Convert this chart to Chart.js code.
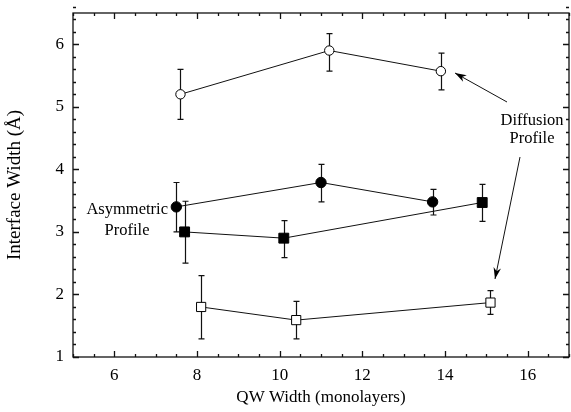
<!DOCTYPE html>
<html>
<head>
<meta charset="utf-8">
<script src="https://cdn.jsdelivr.net/npm/chart.js@4"></script>
<style>
  html, body { margin: 0; padding: 0; background: #fff; }
  #wrap { width: 571px; height: 412px; }
</style>
</head>
<body>
<div id="wrap"><canvas id="chart" width="571" height="412"></canvas></div>
<script>
// data: x = QW width, y = interface width, lo/hi = error bar ends
const diffWellX = [7.6, 11.2, 13.9];
const diffWellY = [5.2, 5.9, 5.57];
const diffWellLo = [4.8, 5.57, 5.27];
const diffWellHi = [5.6, 6.17, 5.86];

const asymWellX = [7.5, 11.0, 13.7];
const asymWellY = [3.4, 3.79, 3.48];
const asymWellLo = [3.0, 3.48, 3.27];
const asymWellHi = [3.79, 4.08, 3.68];

const asymBarX = [7.7, 10.1, 14.9];
const asymBarY = [3.0, 2.9, 3.47];
const asymBarLo = [2.5, 2.59, 3.17];
const asymBarHi = [3.49, 3.18, 3.76];

const diffBarX = [8.1, 10.4, 15.1];
const diffBarY = [1.8, 1.59, 1.87];
const diffBarLo = [1.29, 1.29, 1.68];
const diffBarHi = [2.3, 1.89, 2.06];

const xTicks = [6, 8, 10, 12, 14, 16];
const yTicks = [1, 2, 3, 4, 5, 6];

const FONT = '"Liberation Serif", "Times New Roman", serif';

function pts(xs, ys, lo, hi) {
  return xs.map((x, i) => ({ x: x, y: ys[i], lo: lo[i], hi: hi[i] }));
}

function series(label, data, style, radius, filled) {
  return {
    label: label,
    data: data,
    showLine: true,
    borderColor: '#111',
    borderWidth: 1,
    pointStyle: style,
    pointRadius: radius,
    pointHoverRadius: radius,
    pointBorderWidth: 1,
    pointBackgroundColor: filled ? '#000' : '#fff',
    pointBorderColor: '#000'
  };
}

function noPad(s) {
  s.paddingLeft = 0; s.paddingRight = 0; s.paddingTop = 0; s.paddingBottom = 0;
}

// error bars, drawn under the markers
const errorBars = {
  id: 'errorBars',
  beforeDatasetsDraw(chart) {
    const ctx = chart.ctx;
    const xs = chart.scales.x, ys = chart.scales.y;
    ctx.save();
    ctx.strokeStyle = '#111';
    ctx.lineWidth = 1.2;
    chart.data.datasets.forEach(ds => {
      ds.data.forEach(p => {
        const px = Math.round(xs.getPixelForValue(p.x)) + 0.5;
        const top = ys.getPixelForValue(p.hi);
        const bot = ys.getPixelForValue(p.lo);
        ctx.beginPath();
        ctx.moveTo(px, top); ctx.lineTo(px, bot);
        ctx.moveTo(px - 3, top); ctx.lineTo(px + 3, top);
        ctx.moveTo(px - 3, bot); ctx.lineTo(px + 3, bot);
        ctx.stroke();
      });
    });
    ctx.restore();
  }
};

// box frame with inward ticks on all four sides, plus the text labels and arrows
const frame = {
  id: 'frame',
  afterDraw(chart) {
    const ctx = chart.ctx;
    const a = chart.chartArea;
    const xs = chart.scales.x, ys = chart.scales.y;
    ctx.save();
    ctx.strokeStyle = '#111';
    ctx.lineWidth = 1.3;
    ctx.strokeRect(a.left, a.top, a.right - a.left, a.bottom - a.top);
    ctx.beginPath();
    for (let v = xs.min; v <= xs.max + 1e-6; v += 0.5) {
      const px = Math.round(xs.getPixelForValue(v)) + 0.5;
      const len = Math.abs(v % 2) < 1e-6 ? 6 : 3;
      ctx.moveTo(px, a.bottom); ctx.lineTo(px, a.bottom - len);
      ctx.moveTo(px, a.top); ctx.lineTo(px, a.top + len);
    }
    for (let i = 0; i <= Math.round((ys.max - ys.min) / 0.2); i++) {
      const v = ys.min + i * 0.2;
      const py = Math.round(ys.getPixelForValue(v)) + 0.5;
      const len = i % 5 === 0 ? 6 : 3;
      ctx.moveTo(a.left, py); ctx.lineTo(a.left + len, py);
      ctx.moveTo(a.right, py); ctx.lineTo(a.right - len, py);
    }
    ctx.stroke();

    ctx.fillStyle = '#000';
    ctx.font = '16.5px ' + FONT;
    ctx.textAlign = 'right';
    ctx.textBaseline = 'middle';
    ctx.fillText('Asymmetric', 168, 210);
    ctx.textAlign = 'center';
    ctx.fillText('Profile', 127, 231);
    ctx.fillText('Diffusion', 532, 121);
    ctx.fillText('Profile', 532, 139);

    arrow(ctx, 507, 102, 455, 73);
    arrow(ctx, 520, 157, 495, 279);
    ctx.restore();
  }
};

function arrow(ctx, x1, y1, x2, y2) {
  const ang = Math.atan2(y2 - y1, x2 - x1);
  ctx.beginPath();
  ctx.lineWidth = 1;
  ctx.moveTo(x1, y1); ctx.lineTo(x2, y2);
  ctx.stroke();
  ctx.beginPath();
  ctx.moveTo(x2, y2);
  ctx.lineTo(x2 - 12 * Math.cos(ang - 0.32), y2 - 12 * Math.sin(ang - 0.32));
  ctx.lineTo(x2 - 8 * Math.cos(ang), y2 - 8 * Math.sin(ang));
  ctx.lineTo(x2 - 12 * Math.cos(ang + 0.32), y2 - 12 * Math.sin(ang + 0.32));
  ctx.closePath();
  ctx.fill();
}

new Chart(document.getElementById('chart').getContext('2d'), {
  type: 'scatter',
  data: {
    datasets: [
      series('Diffusion Profile (well)', pts(diffWellX, diffWellY, diffWellLo, diffWellHi), 'circle', 4.7, false),
      series('Asymmetric Profile (well)', pts(asymWellX, asymWellY, asymWellLo, asymWellHi), 'circle', 5.2, true),
      series('Asymmetric Profile (barrier)', pts(asymBarX, asymBarY, asymBarLo, asymBarHi), 'rect', 7, true),
      series('Diffusion Profile (barrier)', pts(diffBarX, diffBarY, diffBarLo, diffBarHi), 'rect', 6.5, false)
    ]
  },
  options: {
    responsive: false,
    animation: false,
    layout: { autoPadding: false, padding: { top: 13, right: 2, left: 0, bottom: 0 } },
    plugins: {
      legend: { display: false },
      tooltip: { enabled: false }
    },
    scales: {
      x: {
        type: 'linear',
        min: 5, max: 17,
        afterBuildTicks: s => { s.ticks = xTicks.map(v => ({ value: v })); },
        afterFit: s => { s.height = 55; noPad(s); },
        grid: { display: false, drawTicks: false },
        border: { display: false },
        ticks: { color: '#000', padding: 8, font: { family: FONT, size: 17 } },
        title: { display: true, text: 'QW Width (monolayers)', color: '#000', padding: { top: 2 }, font: { family: FONT, size: 17 } }
      },
      y: {
        type: 'linear',
        min: 1, max: 6.5,
        afterBuildTicks: s => { s.ticks = yTicks.map(v => ({ value: v })); },
        afterFit: s => { s.width = 73; noPad(s); },
        grid: { display: false, drawTicks: false },
        border: { display: false },
        ticks: { color: '#000', padding: 9, font: { family: FONT, size: 17 } },
        title: { display: true, text: 'Interface Width (Å)', color: '#000', padding: { bottom: 2 }, font: { family: FONT, size: 19 } }
      }
    }
  },
  plugins: [errorBars, frame]
});
</script>
</body>
</html>
